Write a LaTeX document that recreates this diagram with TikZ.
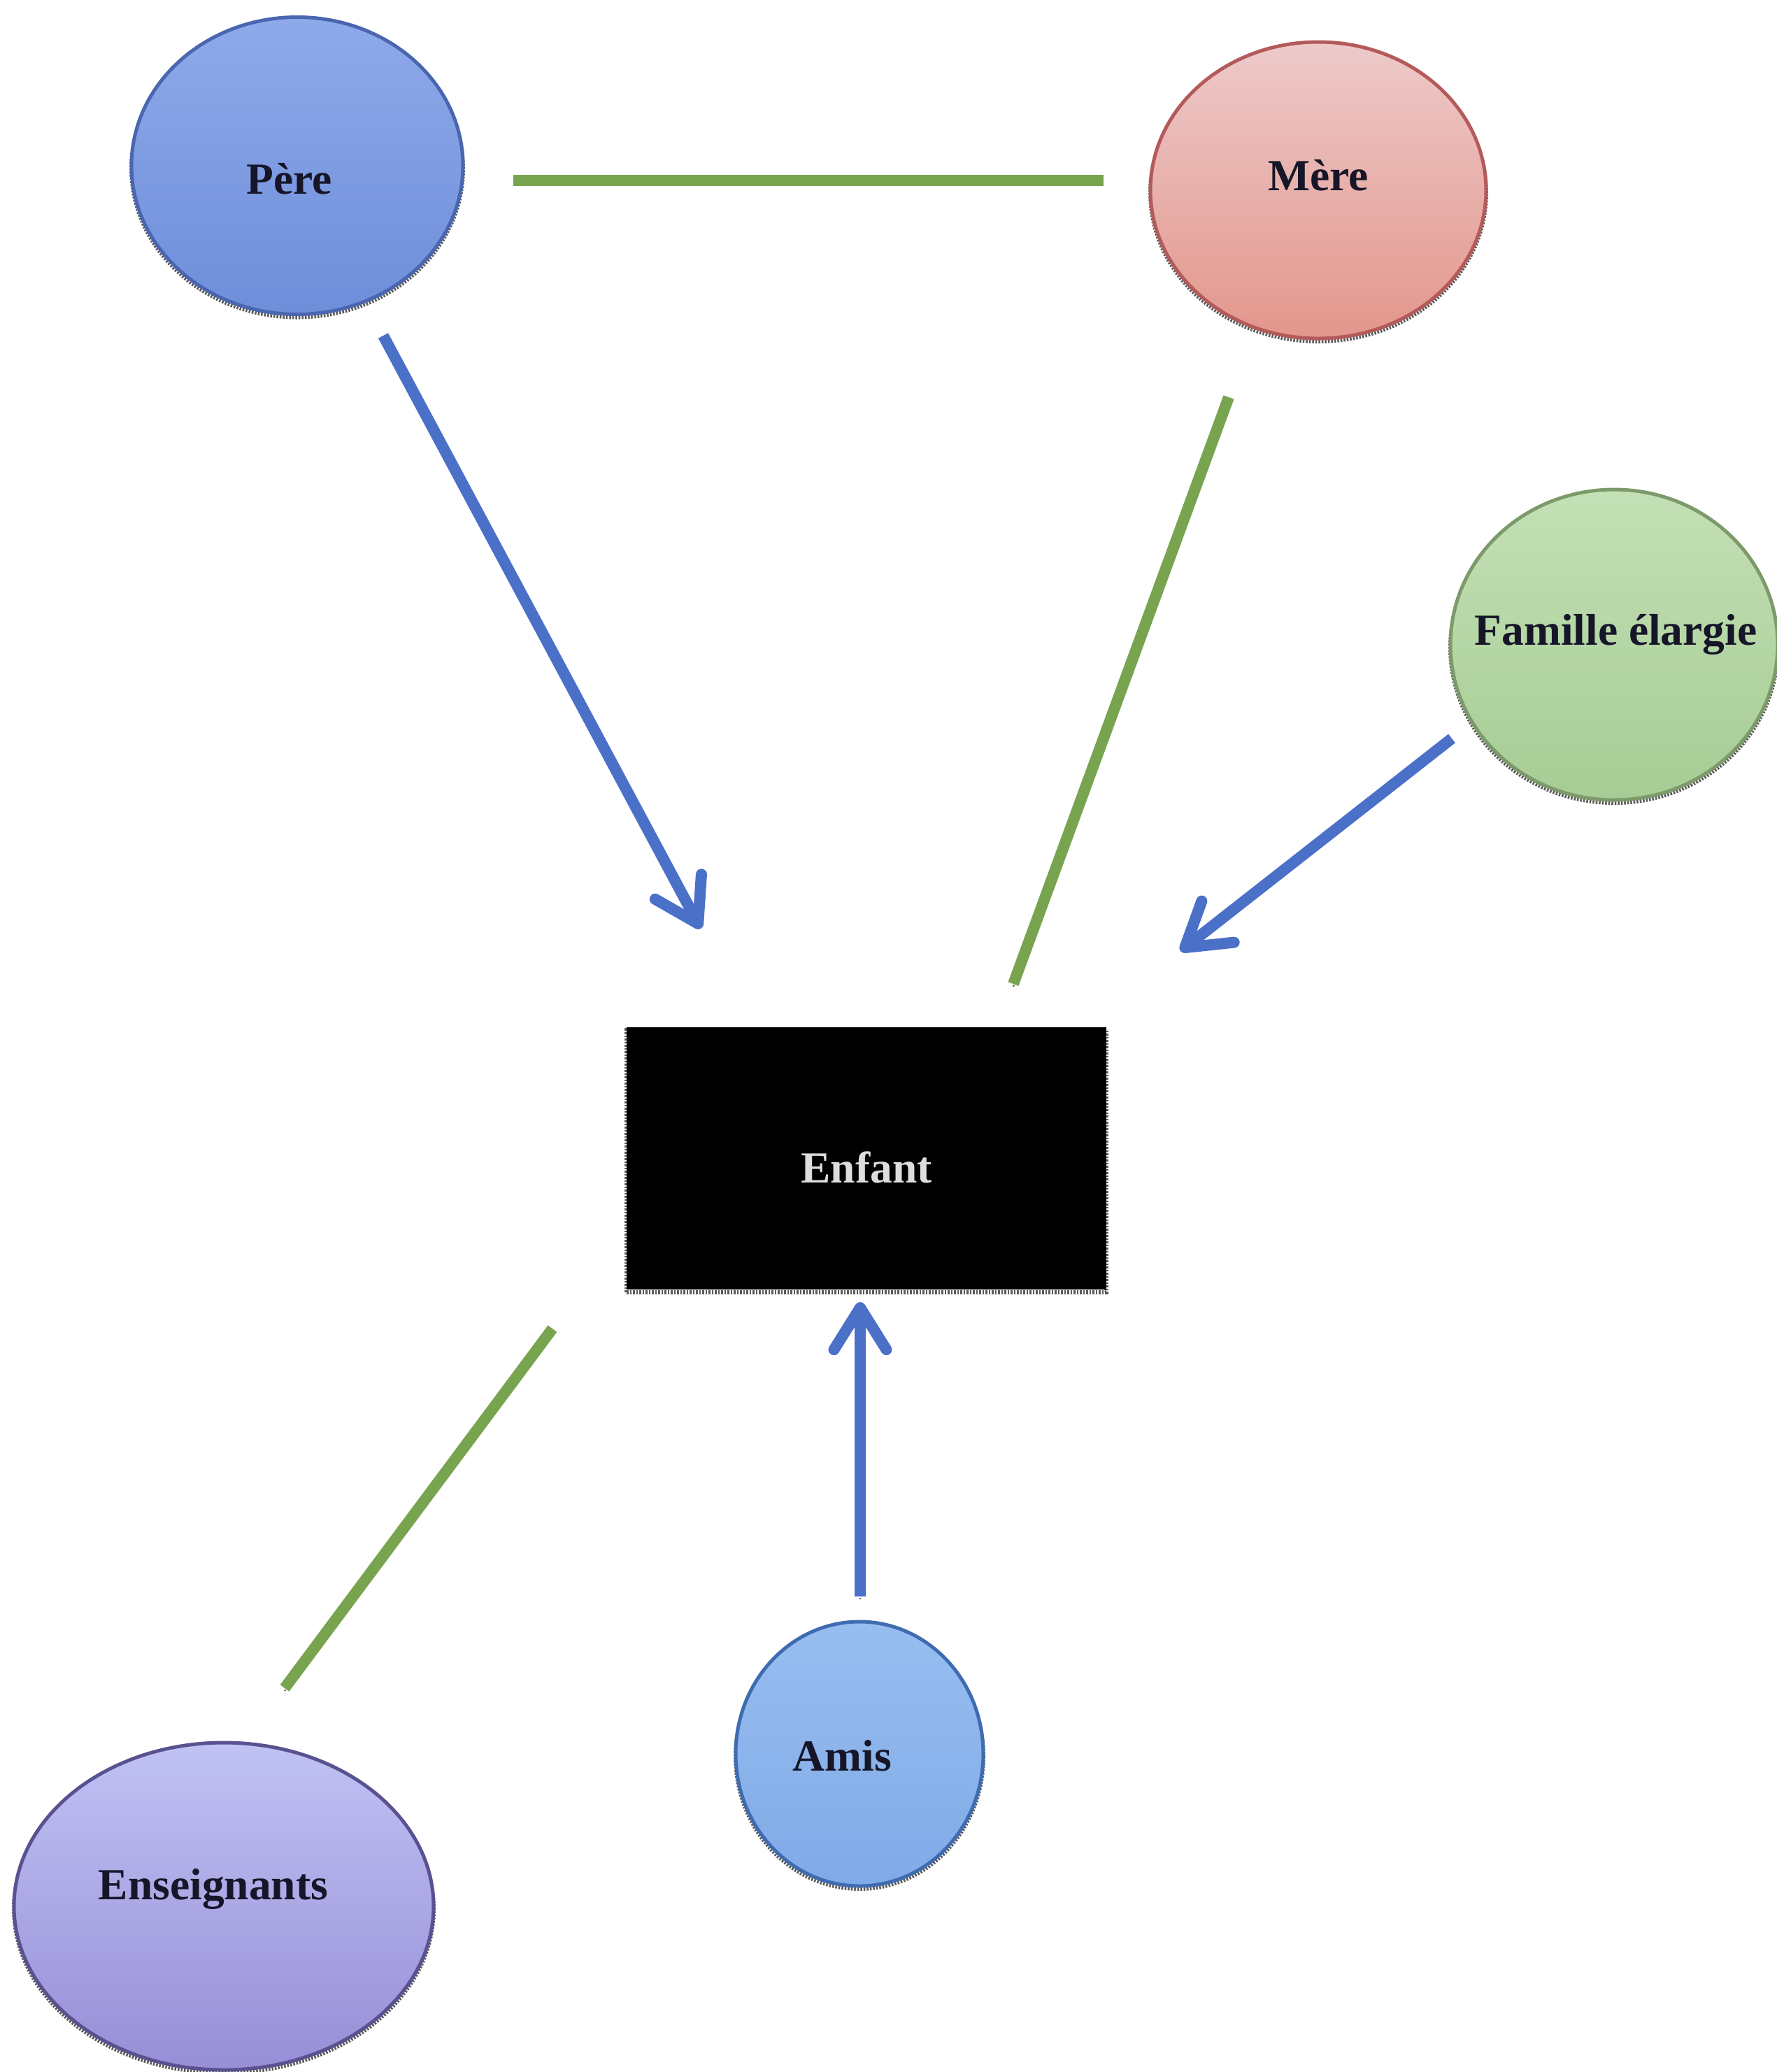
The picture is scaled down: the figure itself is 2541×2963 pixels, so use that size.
\documentclass[tikz,border=0pt]{standalone}
\usepackage{fontspec}
\setmainfont{Liberation Serif}
\usetikzlibrary{shapes.geometric,arrows.meta,shadows}
\definecolor{linegreen}{HTML}{78A450}
\definecolor{lineblue}{HTML}{4A70C8}
\definecolor{txt}{HTML}{161628}
\definecolor{pereD}{HTML}{4A66B0}
\definecolor{pereT}{HTML}{8FAAEA}
\definecolor{pereB}{HTML}{6E8EDA}
\definecolor{mereD}{HTML}{B45A5A}
\definecolor{mereT}{HTML}{EDCACA}
\definecolor{mereB}{HTML}{E3968C}
\definecolor{famD}{HTML}{7C9A6A}
\definecolor{famT}{HTML}{C4E0B6}
\definecolor{famB}{HTML}{A6CC94}
\definecolor{ensD}{HTML}{5A5290}
\definecolor{ensT}{HTML}{C0C2F4}
\definecolor{ensB}{HTML}{978ED6}
\definecolor{amiD}{HTML}{3F6CB0}
\definecolor{amiT}{HTML}{98BEF0}
\definecolor{amiB}{HTML}{80AAE8}
\definecolor{enfTxt}{HTML}{DDDDDD}
\definecolor{sawgray}{HTML}{5A5A5A}
\tikzset{
  lbl/.style={font=\fontsize{12.7pt}{15pt}\selectfont\bfseries, text=txt, inner sep=0pt},
  saw/.style={drop shadow={shadow xshift=0pt, shadow yshift=-0.8pt, fill=none, draw=sawgray, dash pattern=on 0.5pt off 0.4pt, line width=1.2pt, opacity=1}},
  bubble/.style={ellipse, inner sep=0pt, line width=1pt, saw},
  lineshadow/.style={preaction={draw=sawgray, dash pattern=on 0.5pt off 0.4pt, transform canvas={yshift=-0.8pt}}},
  greenline/.style={draw=linegreen, line width=3.2pt, lineshadow},
  bluearrow/.style={draw=lineblue, line width=3.2pt, lineshadow, -{Straight Barb[length=12pt,width=15pt,line width=3.2pt,round]}},
}
\begin{document}
\begin{tikzpicture}[x=0.2pt,y=-0.2pt]
\useasboundingbox (0,0) rectangle (2541,2963);
% nodes
\node[bubble, minimum width=94.8pt, minimum height=85pt, draw=pereD, top color=pereT, bottom color=pereB,
  label={[lbl, shift={(-2.3pt,-3.8pt)}]center:Père}] (pere) at (425,237) {};
\node[bubble, minimum width=96pt, minimum height=84.8pt, draw=mereD, top color=mereT, bottom color=mereB,
  label={[lbl, shift={(0pt,4.2pt)}]center:Mère}] (mere) at (1885,272) {};
\node[bubble, minimum width=93.6pt, minimum height=88.8pt, draw=famD, top color=famT, bottom color=famB,
  label={[lbl, shift={(0.5pt,3pt)}]center:Famille élargie}] (famille) at (2308,922) {};
\node[rectangle, fill=black, minimum width=137.2pt, minimum height=75pt, inner sep=0pt, saw,
  label={[lbl, text=enfTxt, shift={(0pt,-2.6pt)}]center:Enfant}] (enfant) at (1239,1656) {};
\node[bubble, minimum width=120pt, minimum height=93.6pt, draw=ensD, top color=ensT, bottom color=ensB,
  label={[lbl, shift={(-3pt,4.9pt)}]center:Enseignants}] (ens) at (320,2726) {};
\node[bubble, minimum width=70.8pt, minimum height=75.6pt, draw=amiD, top color=amiT, bottom color=amiB,
  label={[lbl, shift={(-4.9pt,-0.5pt)}]center:Amis}] (amis) at (1229,2508) {};
% connector end points
\coordinate (pm1) at (734,258);
\coordinate (pm2) at (1578,258);
\coordinate (pe1) at (548,480);
\coordinate (pe2) at (1002,1328);
\coordinate (me1) at (1757,568);
\coordinate (me2) at (1449,1407);
\coordinate (fe1) at (2076,1056);
\coordinate (fe2) at (1688,1360);
\coordinate (ee1) at (790,1900);
\coordinate (ee2) at (407,2414);
\coordinate (ae1) at (1230,2283);
\coordinate (ae2) at (1230,1862);
% connectors
\draw[greenline] (pm1) -- (pm2);
\draw[bluearrow] (pe1) -- (pe2);
\draw[greenline] (me1) -- (me2);
\draw[bluearrow] (fe1) -- (fe2);
\draw[greenline] (ee1) -- (ee2);
\draw[bluearrow] (ae1) -- (ae2);
\end{tikzpicture}
\end{document}
